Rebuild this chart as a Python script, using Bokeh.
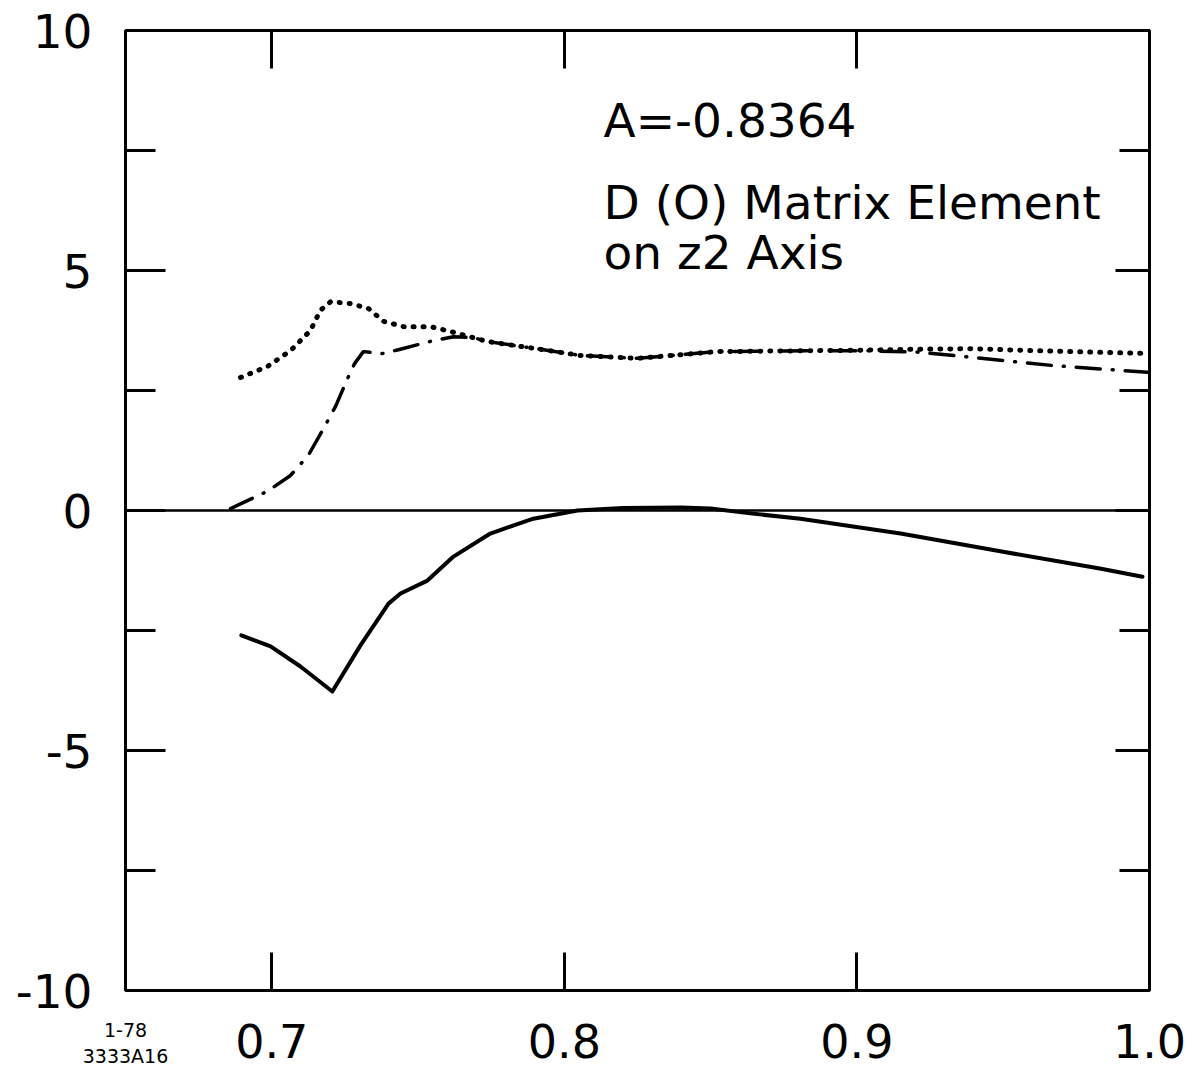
from bokeh.plotting import figure
from bokeh.models import LinearAxis, FixedTicker, Range1d, Span, Label
from bokeh.embed import file_html
from bokeh.resources import INLINE

# ---- data ----
solid_x = [0.6896, 0.6996, 0.7098, 0.7207, 0.7303, 0.7399, 0.744, 0.7532, 0.7621, 0.7747,
           0.7894, 0.8045, 0.82, 0.84, 0.85, 0.8635, 0.8807, 0.9149, 0.949, 0.983, 0.9976]
solid_y = [-2.60, -2.83, -3.25, -3.77, -2.81, -1.94, -1.73, -1.46, -0.96, -0.48,
           -0.17, 0.0, 0.05, 0.06, 0.04, -0.06, -0.17, -0.48, -0.85, -1.21, -1.38]

dot_x = [0.6893, 0.6985, 0.7064, 0.7132, 0.7166, 0.7201, 0.7269, 0.733, 0.7382, 0.745,
         0.7542, 0.7611, 0.7737, 0.7894, 0.8055, 0.825, 0.852, 0.885, 0.902, 0.9207,
         0.94, 0.96, 0.98, 0.9993]
dot_y = [2.77, 3.00, 3.33, 3.75, 4.17, 4.35, 4.31, 4.21, 3.94, 3.83,
         3.83, 3.73, 3.52, 3.38, 3.23, 3.17, 3.31, 3.33, 3.34, 3.36,
         3.37, 3.33, 3.30, 3.27]

dd_x = [0.6859, 0.6985, 0.7064, 0.7125, 0.7177, 0.7218, 0.7259, 0.7283, 0.7313, 0.7378,
        0.7433, 0.7553, 0.7621, 0.769, 0.7737, 0.7894, 0.8055, 0.825, 0.852, 0.885,
        0.902, 0.9207, 0.9378, 0.967, 0.9993]
dd_y = [0.04, 0.40, 0.73, 1.15, 1.71, 2.17, 2.75, 3.06, 3.31, 3.27,
        3.35, 3.54, 3.62, 3.60, 3.52, 3.38, 3.23, 3.17, 3.31, 3.33,
        3.33, 3.30, 3.20, 3.02, 2.88]

y_major = [-10, -5, 0, 5, 10]
y_minor = [-7.5, -2.5, 2.5, 7.5]
y_labels = {-10: "-10", -5: "-5", 0: "0", 5: "5", 10: "10"}
x_ticks = [0.7, 0.8, 0.9, 1.0]
x_labels = {0.7: "0.7", 0.8: "0.8", 0.9: "0.9", 1.0: "1.0"}
top_ticks = [0.7, 0.8, 0.9]

annotation_lines = ["A=-0.8364", "D (O) Matrix Element", "on z2 Axis"]
stamp_lines = ["1-78", "3333A16"]

FONT = "DejaVu Sans"

p = figure(width=1190, height=1075,
           x_range=Range1d(0.65, 1.0), y_range=Range1d(-10, 10),
           output_backend="svg", toolbar_location=None,
           x_axis_location=None, y_axis_location=None,
           min_border_left=125, min_border_right=41,
           min_border_top=30, min_border_bottom=85)
p.xgrid.visible = False
p.ygrid.visible = False
p.outline_line_color = "black"
p.outline_line_width = 3
p.background_fill_color = "white"
p.border_fill_color = "white"


def style_axis(ax, major_in, minor_in, standoff=0, size="46px"):
    ax.axis_line_color = None
    ax.major_tick_in = major_in
    ax.major_tick_out = 0
    ax.minor_tick_in = minor_in
    ax.minor_tick_out = 0
    ax.major_tick_line_width = 3
    ax.minor_tick_line_width = 3
    ax.major_tick_line_color = "black"
    ax.minor_tick_line_color = "black"
    ax.major_label_text_font = FONT
    ax.major_label_text_font_size = size
    ax.major_label_text_color = "black"
    ax.major_label_standoff = standoff


left = LinearAxis(ticker=FixedTicker(ticks=y_major, minor_ticks=y_minor),
                  major_label_overrides=y_labels)
style_axis(left, 40, 30, standoff=33, size="47px")
p.add_layout(left, "left")

right = LinearAxis(ticker=FixedTicker(ticks=y_major, minor_ticks=y_minor),
                   major_label_overrides={t: "" for t in y_major})
style_axis(right, 34, 30)
p.add_layout(right, "right")

bottom = LinearAxis(ticker=FixedTicker(ticks=x_ticks), major_label_overrides=x_labels)
style_axis(bottom, 38, 0, standoff=33, size="46px")
# the small drawing stamp in the lower-left corner is carried by the bottom axis label
bottom.axis_label = "\n".join(stamp_lines)
bottom.axis_label_text_font = FONT
bottom.axis_label_text_font_size = "19px"
bottom.axis_label_text_font_style = "normal"
bottom.axis_label_text_color = "black"
bottom.axis_label_standoff = -42
if "axis_label_align" in LinearAxis.properties():
    bottom.axis_label_align = "start"
bottom.axis_label_text_align = "right"
p.add_layout(bottom, "below")

top = LinearAxis(ticker=FixedTicker(ticks=top_ticks),
                 major_label_overrides={t: "" for t in top_ticks})
style_axis(top, 38, 0)
p.add_layout(top, "above")

p.add_layout(Span(location=0, dimension="width", line_color="black", line_width=2.5))

p.line(solid_x, solid_y, line_color="black", line_width=4, line_join="round", line_cap="round")
p.line(dot_x, dot_y, line_color="black", line_width=5, line_dash="1 9", line_cap="round")
p.line(dd_x, dd_y, line_color="black", line_width=3.5, line_dash="24 12 1 12", line_cap="round")

ann_y = [8.125, 6.42, 5.375]
for txt, yy in zip(annotation_lines, ann_y):
    p.add_layout(Label(x=0.8134, y=yy, text=txt, text_font=FONT, text_font_size="47px",
                       text_color="black", text_baseline="alphabetic", text_align="left"))

open("out.html", "w").write(file_html(p, INLINE))
